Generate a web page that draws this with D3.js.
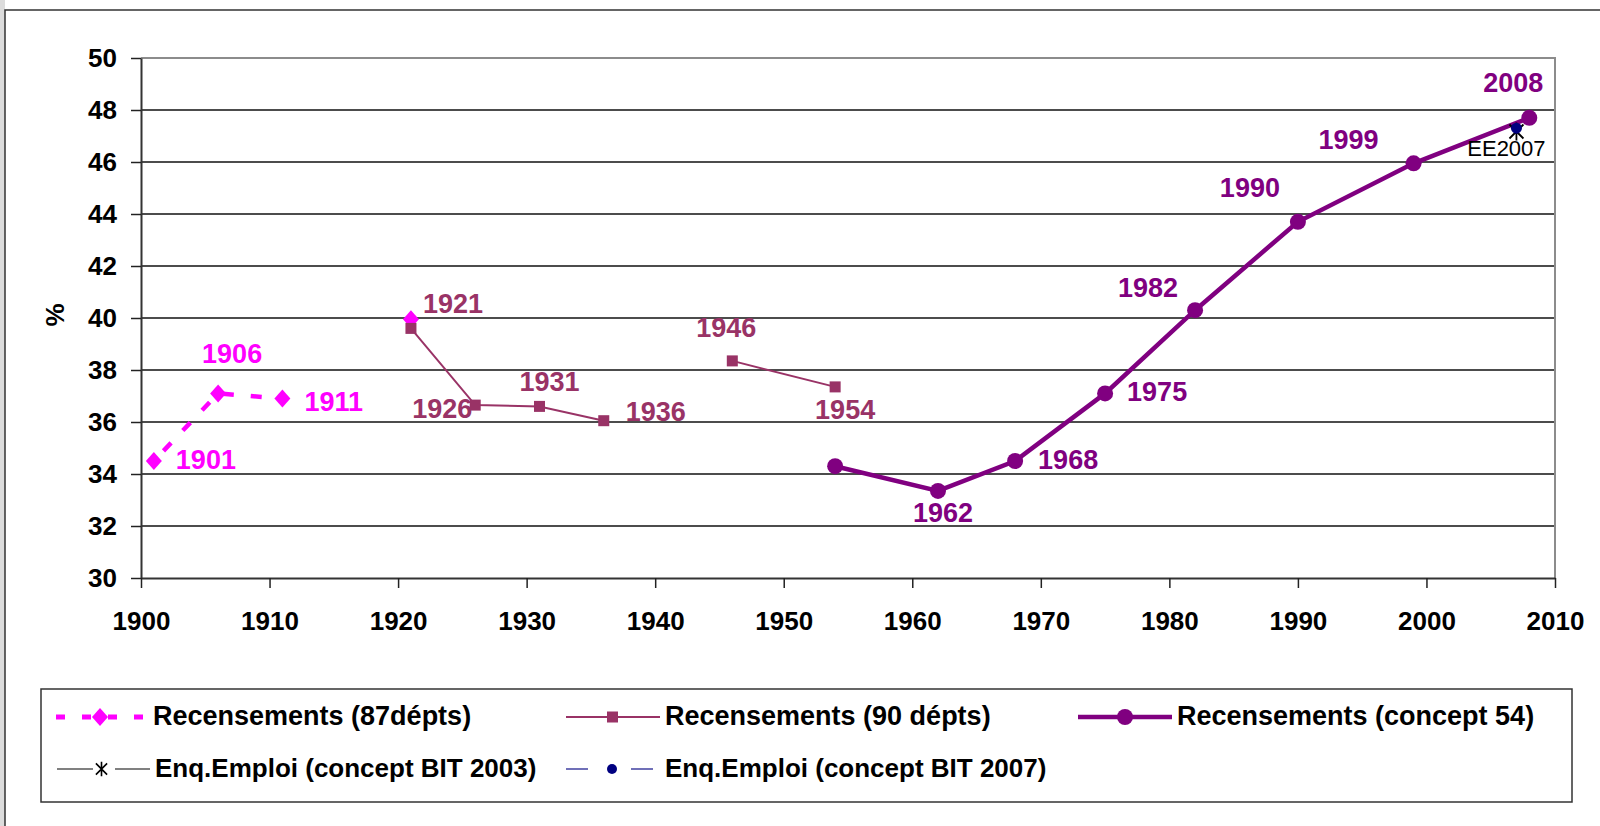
<!DOCTYPE html>
<meta charset="utf-8">
<style>
  body { margin: 0; background: #fff; }
  svg { display: block; }
  text { font-family: "Liberation Sans", Arial, sans-serif; }
  .axis text { font-size: 26px; font-weight: bold; fill: #000; }
  .axis path.domain { stroke: #333; stroke-width: 2; }
  .axis line { stroke: #222; stroke-width: 1.5; }
  .lbl { font-size: 27px; font-weight: bold; }
  .leg text { font-weight: bold; fill: #000; }
</style>
<svg width="1600" height="826"></svg>
<script src="https://cdn.jsdelivr.net/npm/d3@7"></script>
<script>

// data (share in %, census years)
var years87  = [1901, 1906, 1911, 1916, 1921];
var values87 = [34.5, 37.1, 36.9, null, 39.95];

var years90  = [1921, 1926, 1931, 1936, 1941, 1946, 1954];
var values90 = [39.6, 36.65, 36.6, 36.05, null, 38.35, 37.35];

var years54  = [1954, 1962, 1968, 1975, 1982, 1990, 1999, 2008];
var values54 = [34.3, 33.35, 34.5, 37.1, 40.3, 43.7, 45.95, 47.7];

var yearsBIT2003  = [2007];
var valuesBIT2003 = [47.25];
var yearsBIT2007  = [2007];
var valuesBIT2007 = [47.3];

var xTicks = [1900, 1910, 1920, 1930, 1940, 1950, 1960, 1970, 1980, 1990, 2000, 2010];
var yTicks = [30, 32, 34, 36, 38, 40, 42, 44, 46, 48, 50];

var legendNames = ["Recensements (87dépts)", "Recensements (90 dépts)", "Recensements (concept 54)",
                   "Enq.Emploi (concept BIT 2003)", "Enq.Emploi (concept BIT 2007)"];

// colours
var c87 = "#ff00ff", c90 = "#993366", c54 = "#800080", cNavy = "#000080";

var svg = d3.select("svg");

// outer frame
svg.append("rect").attr("x", 0).attr("y", 0).attr("width", 5).attr("height", 826).attr("fill", "#dcdcdc");
svg.append("rect").attr("x", 5).attr("y", 10).attr("width", 1620).attr("height", 840)
  .attr("fill", "#fff").attr("stroke", "#333").attr("stroke-width", 1.5);

var x = d3.scaleLinear().domain([1900, 2010]).range([141, 1555]);
var y = d3.scaleLinear().domain([30, 50]).range([578, 58]);

function zip(xs, vs) { return xs.map(function(d, i) { return {year: d, v: vs[i]}; }); }
var s87 = zip(years87, values87), s90 = zip(years90, values90), s54 = zip(years54, values54);
var bit03 = zip(yearsBIT2003, valuesBIT2003), bit07 = zip(yearsBIT2007, valuesBIT2007);

// gridlines
svg.append("g").selectAll("line")
  .data(yTicks.filter(function(d) { return d > 30 && d < 50; }))
  .enter().append("line")
    .attr("x1", x(1900)).attr("x2", x(2010))
    .attr("y1", function(d) { return y(d); }).attr("y2", function(d) { return y(d); })
    .attr("stroke", "#111").attr("stroke-width", 1.5);

// plot border (top / right)
svg.append("path")
  .attr("d", "M" + x(1900) + "," + y(50) + "H" + x(2010) + "V" + y(30))
  .attr("fill", "none").attr("stroke", "#8c8c8c").attr("stroke-width", 2);

// axes
svg.append("g").attr("class", "axis")
  .attr("transform", "translate(" + x(1900) + ",0)")
  .call(d3.axisLeft(y).tickValues(yTicks).tickSize(10).tickSizeOuter(0).tickPadding(14));

svg.append("g").attr("class", "axis")
  .attr("transform", "translate(0," + y(30) + ")")
  .call(d3.axisBottom(x).tickValues(xTicks).tickSize(10).tickSizeOuter(0).tickPadding(24)
    .tickFormat(d3.format("d")));

svg.append("text")
  .attr("transform", "translate(64,315) rotate(-90)")
  .attr("text-anchor", "middle")
  .style("font-size", "26px").style("font-weight", "bold")
  .text("%");

var line = d3.line()
  .defined(function(d) { return d.v != null; })
  .x(function(d) { return x(d.year); })
  .y(function(d) { return y(d.v); });

// markers
var diamond = "M0,-9L8,0L0,9L-8,0Z";
var star = "M-7,-7L7,7M-7,7L7,-7M0,-9L0,9";

// 87 depts
svg.append("path").datum(s87).attr("d", line)
  .attr("fill", "none").attr("stroke", c87).attr("stroke-width", 4.5)
  .attr("stroke-dasharray", "11,17").attr("stroke-dashoffset", -14);
svg.append("g").selectAll("path").data(s87.filter(function(d) { return d.v != null; }))
  .enter().append("path")
    .attr("transform", function(d) { return "translate(" + x(d.year) + "," + y(d.v) + ")"; })
    .attr("d", diamond).attr("fill", c87);

// 90 depts
svg.append("path").datum(s90).attr("d", line)
  .attr("fill", "none").attr("stroke", c90).attr("stroke-width", 2);
svg.append("g").selectAll("rect").data(s90.filter(function(d) { return d.v != null; }))
  .enter().append("rect")
    .attr("x", function(d) { return x(d.year) - 5.5; })
    .attr("y", function(d) { return y(d.v) - 5.5; })
    .attr("width", 11).attr("height", 11).attr("fill", c90);

// concept 54
svg.append("path").datum(s54).attr("d", line)
  .attr("fill", "none").attr("stroke", c54).attr("stroke-width", 4.5);
svg.append("g").selectAll("circle").data(s54)
  .enter().append("circle")
    .attr("cx", function(d) { return x(d.year); })
    .attr("cy", function(d) { return y(d.v); })
    .attr("r", 8).attr("fill", c54);

// enquete emploi points
svg.append("g").selectAll("path").data(bit03)
  .enter().append("path")
    .attr("transform", function(d) { return "translate(" + x(d.year) + "," + (y(d.v) + 2) + ")"; })
    .attr("d", star).attr("stroke", "#000").attr("stroke-width", 1.8).attr("fill", "none");
svg.append("g").selectAll("circle").data(bit07)
  .enter().append("circle")
    .attr("cx", function(d) { return x(d.year); })
    .attr("cy", function(d) { return y(d.v); })
    .attr("r", 5.5).attr("fill", cNavy);

// data labels: offsets from the point, anchor
var labelPos = {
  "87-1901": [22, 8, "start"], "87-1906": [14, -30, "middle"], "87-1911": [22, 12, "start"],
  "90-1921": [12, -15, "start"], "90-1926": [-3, 13, "end"], "90-1931": [10, -15, "middle"],
  "90-1936": [22, 0, "start"], "90-1946": [-6, -24, "middle"], "90-1954": [10, 32, "middle"],
  "54-1962": [5, 31, "middle"], "54-1968": [23, 8, "start"], "54-1975": [22, 8, "start"],
  "54-1982": [-47, -13, "middle"], "54-1990": [-48, -25, "middle"], "54-1999": [-65, -14, "middle"],
  "54-2008": [-16, -26, "middle"]
};

function addLabels(data, key, color) {
  svg.append("g").selectAll("text")
    .data(data.filter(function(d) { return labelPos[key + "-" + d.year]; }))
    .enter().append("text")
      .attr("class", "lbl")
      .attr("x", function(d) { return x(d.year) + labelPos[key + "-" + d.year][0]; })
      .attr("y", function(d) { return y(d.v) + labelPos[key + "-" + d.year][1]; })
      .attr("text-anchor", function(d) { return labelPos[key + "-" + d.year][2]; })
      .attr("fill", color)
      .text(function(d) { return d.year; });
}
addLabels(s87, "87", c87);
addLabels(s90, "90", c90);
addLabels(s54, "54", c54);

svg.append("text")
  .attr("x", x(bit07[0].year) - 10).attr("y", y(bit07[0].v) + 28)
  .attr("text-anchor", "middle").style("font-size", "22px").attr("fill", "#000")
  .text("EE2007");

// legend
var leg = svg.append("g").attr("class", "leg");
leg.append("rect").attr("x", 41).attr("y", 689).attr("width", 1531).attr("height", 113)
  .attr("fill", "#fff").attr("stroke", "#333").attr("stroke-width", 1.5);

var legItems = [
  {x0: 56, x1: 148, cy: 717, fs: 27, name: legendNames[0], stroke: c87, w: 5, dash: "9,17", mark: "diamond"},
  {x0: 566, x1: 660, cy: 717, fs: 27, name: legendNames[1], stroke: c90, w: 2, dash: null, mark: "square"},
  {x0: 1078, x1: 1172, cy: 717, fs: 27, name: legendNames[2], stroke: c54, w: 4.5, dash: null, mark: "circle"},
  {x0: 57, x1: 150, cy: 769, fs: 26, name: legendNames[3], stroke: "#808080", w: 2, dash: "36,22", mark: "star"},
  {x0: 566, x1: 660, cy: 769, fs: 26, name: legendNames[4], stroke: "#7070b8", w: 2, dash: "22,43", mark: "dot"}
];

legItems.forEach(function(it) {
  var g = leg.append("g");
  var ln = g.append("line").attr("x1", it.x0).attr("x2", it.x1).attr("y1", it.cy).attr("y2", it.cy)
    .attr("stroke", it.stroke).attr("stroke-width", it.w);
  if (it.dash) ln.attr("stroke-dasharray", it.dash);
  var mx = (it.x0 + it.x1) / 2;
  if (it.mark === "diamond") g.append("path").attr("transform", "translate(" + (mx - 2) + "," + it.cy + ")").attr("d", diamond).attr("fill", c87);
  if (it.mark === "square") g.append("rect").attr("x", mx - 6).attr("y", it.cy - 5.5).attr("width", 11).attr("height", 11).attr("fill", c90);
  if (it.mark === "circle") g.append("circle").attr("cx", mx).attr("cy", it.cy).attr("r", 8).attr("fill", c54);
  if (it.mark === "star") g.append("path").attr("transform", "translate(" + (mx - 2) + "," + it.cy + ") scale(0.8)").attr("d", star).attr("stroke", "#000").attr("stroke-width", 2).attr("fill", "none");
  if (it.mark === "dot") g.append("circle").attr("cx", mx - 1).attr("cy", it.cy).attr("r", 5).attr("fill", cNavy);
  g.append("text").attr("x", it.x1 + 5).attr("y", it.cy + 8).style("font-size", it.fs + "px").text(it.name);
});

</script>
